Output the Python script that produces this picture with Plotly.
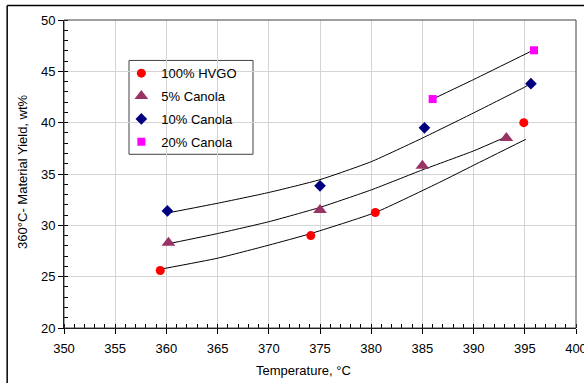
import plotly.graph_objects as go

# Measured yields (wt%) versus reactor temperature (°C)
hvgo_t = [359.4, 374.1, 380.4, 394.9]
hvgo_y = [25.6, 29.0, 31.25, 40.0]

can5_t = [360.2, 375.0, 385.0, 393.2]
can5_y = [28.3, 31.5, 35.8, 38.5]

can10_t = [360.1, 375.0, 385.2, 395.6]
can10_y = [31.4, 33.85, 39.5, 43.8]

can20_t = [386.0, 395.9]
can20_y = [42.3, 47.05]

# Model curves drawn through each feed's data
hvgo_fit_t = [359.5, 365, 370, 374.1, 380.4, 386.7, 390, 395.1]
hvgo_fit_y = [25.74, 26.8, 28.07, 29.2, 31.25, 34.2, 35.85, 38.38]

can5_fit_t = [360.35, 365, 370, 375, 380, 385, 390, 393.13]
can5_fit_y = [28.24, 29.2, 30.35, 31.75, 33.45, 35.4, 37.25, 38.6]

can10_fit_t = [360.2, 365, 370, 375, 380, 385, 390, 395, 395.5]
can10_fit_y = [31.22, 32.15, 33.2, 34.45, 36.2, 38.5, 40.95, 43.47, 43.75]

can20_fit_t = [385.8, 390, 395.7]
can20_fit_y = [42.2, 44.2, 47.0]

x_ticks = [350, 355, 360, 365, 370, 375, 380, 385, 390, 395, 400]
y_ticks = [20, 25, 30, 35, 40, 45, 50]

FONT = "Liberation Sans, Arial, sans-serif"

fig = go.Figure()

curves = [
    (hvgo_fit_t, hvgo_fit_y),
    (can5_fit_t, can5_fit_y),
    (can10_fit_t, can10_fit_y),
    (can20_fit_t, can20_fit_y),
]
for t, y in curves:
    fig.add_trace(go.Scatter(x=t, y=y, mode="lines",
                             line=dict(color="black", width=1, shape="spline", smoothing=0.5),
                             showlegend=False, hoverinfo="skip"))

series = [
    ("100% HVGO", hvgo_t, hvgo_y, "circle", "#FF0000", 9),
    ("5% Canola", can5_t, can5_y, "triangle-up", "#993366", 12),
    ("10% Canola", can10_t, can10_y, "diamond", "#000080", 9),
    ("20% Canola", can20_t, can20_y, "square", "#FF00FF", 8),
]
for i, (name, t, y, sym, col, sz) in enumerate(series):
    fig.add_trace(go.Scatter(x=t, y=y, mode="markers", name=name, legendgroup=f"g{i}",
                             marker=dict(symbol=sym, color=col, size=sz, line=dict(width=0))))

axis_common = dict(
    showgrid=True, gridcolor="#d4d4d4", gridwidth=1,
    showline=True, linecolor="black", linewidth=1, mirror=False,
    ticks="outside", ticklen=5, tickcolor="black", tickwidth=1,
    tickfont=dict(family=FONT, size=13, color="black"),
    ticklabeloverflow="allow", automargin=False,
    zeroline=False,
    minor=dict(ticks="inside", ticklen=4, tickcolor="black", dtick=1, showgrid=False),
)

fig.update_xaxes(range=[350, 400], tickvals=x_ticks, ticklabelstandoff=3, **axis_common)
fig.update_yaxes(range=[20, 50], tickvals=y_ticks, **axis_common)

fig.update_layout(
    width=584, height=383,
    margin=dict(l=64, r=8, t=20, b=55, autoexpand=False),
    paper_bgcolor="white", plot_bgcolor="white",
    font=dict(family=FONT, size=13, color="black"),
    legend=dict(x=0.112, y=0.876, xanchor="left", yanchor="top",
                bgcolor="rgba(0,0,0,0)", borderwidth=0,
                font=dict(family=FONT, size=13, color="black"),
                tracegroupgap=3, itemwidth=30),
    annotations=[
        dict(text="Temperature, °C", xref="paper", yref="paper", x=0.468, y=-0.138,
             xanchor="center", yanchor="middle", showarrow=False,
             font=dict(family=FONT, size=13, color="black")),
        dict(text="360°C- Material Yield, wt%", xref="paper", yref="paper", x=-0.080, y=0.507,
             xanchor="center", yanchor="middle", textangle=-90, showarrow=False,
             font=dict(family=FONT, size=13, color="black")),
    ],
    shapes=[
        # legend box
        dict(type="rect", xref="paper", yref="paper",
             x0=(129 - 64) / 512, x1=(253 - 64) / 512,
             y0=(328 - 154) / 308.5, y1=(328 - 60) / 308.5,
             line=dict(color="#404040", width=1), fillcolor="white", layer="below"),
        # plot-area frame
        dict(type="rect", xref="paper", yref="paper", x0=0, y0=0, x1=1, y1=1,
             line=dict(color="#404040", width=1), layer="above"),
        # chart-area frame (left and top edges)
        dict(type="line", xref="paper", yref="paper", x0=-0.111, y0=-0.2, x1=-0.111, y1=1.047,
             line=dict(color="black", width=1.5)),
        dict(type="line", xref="paper", yref="paper", x0=-0.111, y0=1.047, x1=1.1, y1=1.047,
             line=dict(color="black", width=1.5)),
    ],
)

fig.write_html("out.html")
